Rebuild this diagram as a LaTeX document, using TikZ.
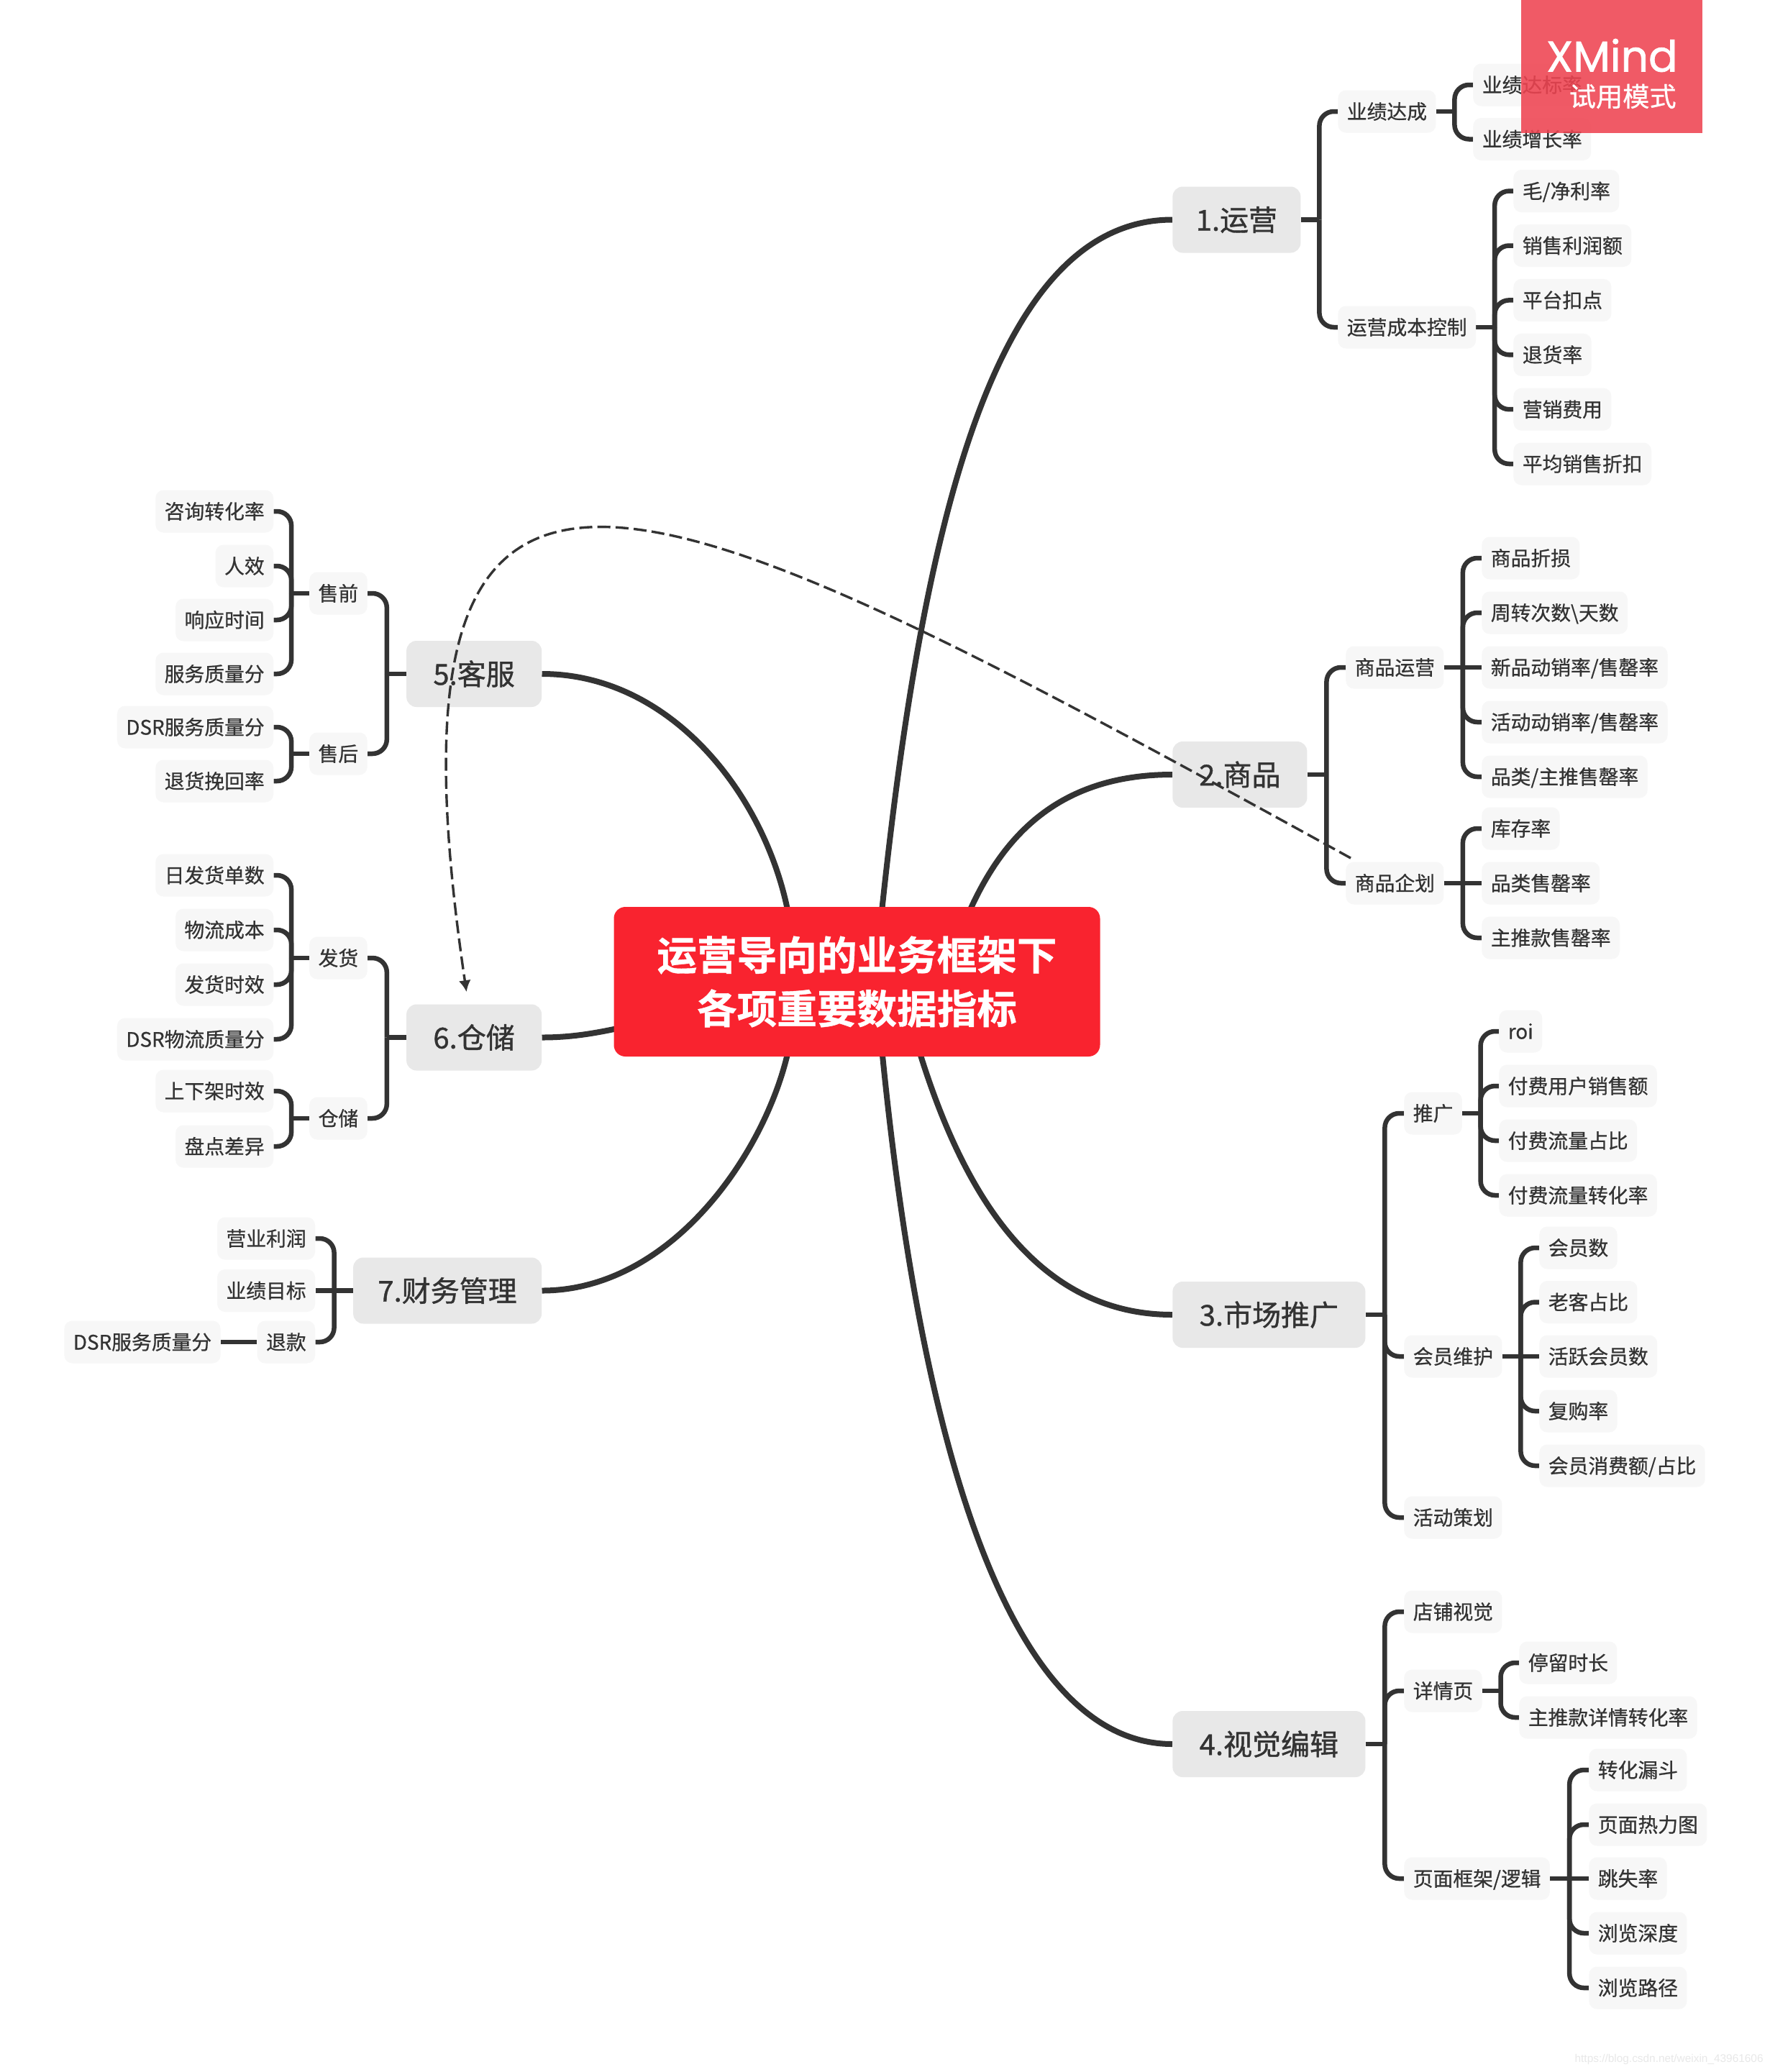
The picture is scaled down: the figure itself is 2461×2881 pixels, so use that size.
\documentclass[tikz,border=0pt]{standalone}
\usepackage{fontspec}
\setmainfont{Noto Sans CJK SC}[FakeBold=0.7,BoldFont={Noto Sans CJK SC Bold}]
\newfontfamily\wmfont{Poppins}[FakeBold=1.2]
\newfontfamily\urlfont{Liberation Sans}
\newfontfamily\cjkplain{Noto Sans CJK SC}[FakeBold=0.7]
\newfontfamily\topicfont{Noto Sans CJK SC}[FakeBold=1.0]
\usetikzlibrary{calc,arrows.meta}
\definecolor{ink}{HTML}{333333}
\definecolor{leaffill}{HTML}{F7F7F7}
\definecolor{topicfill}{HTML}{E8E8E8}
\definecolor{rootfill}{HTML}{F9232F}
\definecolor{markfill}{HTML}{EF4451}
\pgfdeclarelayer{under}
\pgfsetlayers{under,main}
\tikzset{
  leafbox/.style={fill=leaffill,text=ink,rounded corners=5.5pt,font=\fontsize{13.9}{16}\selectfont,
    inner xsep=6.2pt,inner ysep=0pt,minimum height=29.5pt,text height=12.2pt,text depth=1.7pt},
  topicbox/.style={fill=topicfill,text=ink,rounded corners=7pt,font=\topicfont\fontsize{20}{24}\selectfont,
    inner xsep=0pt,inner ysep=0pt,minimum height=46pt,text height=17.6pt,text depth=2.4pt},
  rootbox/.style={fill=rootfill,text=white,rounded corners=8pt,font=\fontsize{27.8}{37.2}\selectfont\bfseries,
    align=center,minimum width=338pt,minimum height=104pt,inner sep=0pt},
  onright/.style={anchor=west},
  onleft/.style={anchor=east},
  stub/.style={draw=ink,line width=3.25pt},
  branch/.style={draw=ink,line width=3.25pt,rounded corners=10pt},
  mainline/.style={draw=ink,line width=4pt},
  relation/.style={draw=ink,line width=1.7pt,dash pattern=on 9pt off 3.6pt,
    -{Latex[length=8pt,width=8.5pt]}},
}
% stub from the parent to the trunk, then trunk with a rounded turn into the child
\newcommand{\rbranch}[2]{%
  \coordinate (trunk) at ($(#1.east)!.5!(#2.west)$);
  \draw[stub] (#1.east) -- (trunk |- #1.east);
  \draw[branch] (trunk |- #1.east) |- (#2.west);}
\newcommand{\lbranch}[2]{%
  \coordinate (trunk) at ($(#1.west)!.5!(#2.east)$);
  \draw[stub] (#1.west) -- (trunk |- #1.west);
  \draw[branch] (trunk |- #1.west) |- (#2.east);}
\newcommand{\rstraight}[2]{\draw[stub] (#1.east) -- (#2.west);}
\newcommand{\lstraight}[2]{\draw[stub] (#1.west) -- (#2.east);}
\begin{document}
\begin{tikzpicture}[x=0.5pt,y=-0.5pt]
\path[use as bounding box] (0,0) rectangle (2461,2881);

\node[rootbox] (root) at (1191.5,1365) {运营导向的业务框架下\\各项重要数据指标};

% topics
\node[topicbox,onright,minimum width=89pt] (ta) at (1630,305.5) {1.运营};
\node[topicbox,onright,minimum width=93.5pt] (tb) at (1630,1077) {2.商品};
\node[topicbox,onright,minimum width=134pt] (tc) at (1630,1828) {3.市场推广};
\node[topicbox,onright,minimum width=134pt] (td) at (1630,2425) {4.视觉编辑};
\node[topicbox,onleft,minimum width=94pt] (te) at (753.5,937) {5.客服};
\node[topicbox,onleft,minimum width=94pt] (tf) at (753.5,1442.5) {6.仓储};
\node[topicbox,onleft,minimum width=131pt] (tg) at (753.5,1794.5) {7.财务管理};

% 1
\node[leafbox,onright] (a1) at (1860,155) {业绩达成};
\node[leafbox,onright] (a2) at (1860,455) {运营成本控制};
\node[leafbox,onright] (a11) at (2048,118) {业绩达标率};
\node[leafbox,onright] (a12) at (2048,193.5) {业绩增长率};
\node[leafbox,onright] (a21) at (2104,265.6) {毛/净利率};
\node[leafbox,onright] (a22) at (2104,341.5) {销售利润额};
\node[leafbox,onright] (a23) at (2104,417.4) {平台扣点};
\node[leafbox,onright] (a24) at (2104,493.3) {退货率};
\node[leafbox,onright] (a25) at (2104,569.2) {营销费用};
\node[leafbox,onright] (a26) at (2104,645) {平均销售折扣};
% 2
\node[leafbox,onright] (b1) at (1871,928) {商品运营};
\node[leafbox,onright] (b2) at (1871,1228) {商品企划};
\node[leafbox,onright] (b11) at (2060,776) {商品折损};
\node[leafbox,onright] (b12) at (2060,852) {周转次数\textbackslash 天数};
\node[leafbox,onright] (b13) at (2060,928) {新品动销率/售罄率};
\node[leafbox,onright] (b14) at (2060,1004) {活动动销率/售罄率};
\node[leafbox,onright] (b15) at (2060,1080) {品类/主推售罄率};
\node[leafbox,onright] (b21) at (2060,1152) {库存率};
\node[leafbox,onright] (b22) at (2060,1228) {品类售罄率};
\node[leafbox,onright] (b23) at (2060,1304) {主推款售罄率};
% 3
\node[leafbox,onright] (c1) at (1952,1548) {推广};
\node[leafbox,onright] (c2) at (1952,1886) {会员维护};
\node[leafbox,onright] (c3) at (1952,2110) {活动策划};
\node[leafbox,onright] (c11) at (2084,1434) {roi};
\node[leafbox,onright] (c12) at (2084,1510) {付费用户销售额};
\node[leafbox,onright] (c13) at (2084,1586) {付费流量占比};
\node[leafbox,onright] (c14) at (2084,1662) {付费流量转化率};
\node[leafbox,onright] (c21) at (2140,1735) {会员数};
\node[leafbox,onright] (c22) at (2140,1810.5) {老客占比};
\node[leafbox,onright] (c23) at (2140,1886) {活跃会员数};
\node[leafbox,onright] (c24) at (2140,1962) {复购率};
\node[leafbox,onright] (c25) at (2140,2038) {会员消费额/占比};
% 4
\node[leafbox,onright] (d1) at (1952,2241) {店铺视觉};
\node[leafbox,onright] (d2) at (1952,2351) {详情页};
\node[leafbox,onright] (d3) at (1952,2612) {页面框架/逻辑};
\node[leafbox,onright] (d21) at (2112,2312) {停留时长};
\node[leafbox,onright] (d22) at (2112,2388) {主推款详情转化率};
\node[leafbox,onright] (d31) at (2209,2461) {转化漏斗};
\node[leafbox,onright] (d32) at (2209,2537) {页面热力图};
\node[leafbox,onright] (d33) at (2209,2612) {跳失率};
\node[leafbox,onright] (d34) at (2209,2688) {浏览深度};
\node[leafbox,onright] (d35) at (2209,2764) {浏览路径};
% 5
\node[leafbox,onleft] (e1) at (511,825) {售前};
\node[leafbox,onleft] (e2) at (511,1048) {售后};
\node[leafbox,onleft] (e11) at (380.5,711) {咨询转化率};
\node[leafbox,onleft] (e12) at (380.5,787) {人效};
\node[leafbox,onleft] (e13) at (380.5,862) {响应时间};
\node[leafbox,onleft] (e14) at (380.5,937) {服务质量分};
\node[leafbox,onleft] (e21) at (380.5,1011) {DSR服务质量分};
\node[leafbox,onleft] (e22) at (380.5,1086) {退货挽回率};
% 6
\node[leafbox,onleft] (f1) at (511,1332) {发货};
\node[leafbox,onleft] (f2) at (511,1555) {仓储};
\node[leafbox,onleft] (f11) at (380.5,1217) {日发货单数};
\node[leafbox,onleft] (f12) at (380.5,1293) {物流成本};
\node[leafbox,onleft] (f13) at (380.5,1369) {发货时效};
\node[leafbox,onleft] (f14) at (380.5,1445) {DSR物流质量分};
\node[leafbox,onleft] (f21) at (380.5,1517) {上下架时效};
\node[leafbox,onleft] (f22) at (380.5,1594) {盘点差异};
% 7
\node[leafbox,onleft] (g1) at (438.5,1722) {营业利润};
\node[leafbox,onleft] (g2) at (438.5,1794.5) {业绩目标};
\node[leafbox,onleft] (g3) at (438.5,1866) {退款};
\node[leafbox,onleft] (g31) at (307,1866) {DSR服务质量分};

\begin{pgfonlayer}{under}
\fill[white] (0,0) rectangle (2461,2881);
% main curves
\draw[mainline] ($(root.north)+(35,2)$) .. controls (1286,701) and (1390,305.5) .. (ta.west);
\draw[mainline] ($(root.north)+(158.5,2)$) .. controls (1395,1165) and (1470,1077) .. (tb.west);
\draw[mainline] ($(root.south)+(88.5,-2)$) .. controls (1334,1639) and (1430,1828) .. (tc.west);
\draw[mainline] ($(root.south)+(35.5,-2)$) .. controls (1280,2000) and (1400,2425) .. (td.west);
\draw[mainline] ($(root.north)+(-97,2)$) .. controls (1060,1100) and (930,937) .. (te.east);
\draw[mainline] ($(root.west)+(2,65.7)$) .. controls (820,1438) and (790,1442.5) .. (tf.east);
\draw[mainline] ($(root.south)+(-97,-2)$) .. controls (1060,1610) and (930,1794.5) .. (tg.east);
% branches
\foreach \c in {a1,a2}{\rbranch{ta}{\c}}
\foreach \c in {a11,a12}{\rbranch{a1}{\c}}
\foreach \c in {a21,a22,a23,a24,a25,a26}{\rbranch{a2}{\c}}
\foreach \c in {b1,b2}{\rbranch{tb}{\c}}
\foreach \c in {b11,b12,b14,b15}{\rbranch{b1}{\c}}
\rstraight{b1}{b13}
\foreach \c in {b21,b23}{\rbranch{b2}{\c}}
\rstraight{b2}{b22}
\foreach \c in {c1,c2,c3}{\rbranch{tc}{\c}}
\foreach \c in {c11,c12,c13,c14}{\rbranch{c1}{\c}}
\foreach \c in {c21,c22,c24,c25}{\rbranch{c2}{\c}}
\rstraight{c2}{c23}
\foreach \c in {d1,d2,d3}{\rbranch{td}{\c}}
\foreach \c in {d21,d22}{\rbranch{d2}{\c}}
\foreach \c in {d31,d32,d34,d35}{\rbranch{d3}{\c}}
\rstraight{d3}{d33}
\foreach \c in {e1,e2}{\lbranch{te}{\c}}
\foreach \c in {e11,e12,e13,e14}{\lbranch{e1}{\c}}
\foreach \c in {e21,e22}{\lbranch{e2}{\c}}
\foreach \c in {f1,f2}{\lbranch{tf}{\c}}
\foreach \c in {f11,f12,f13,f14}{\lbranch{f1}{\c}}
\foreach \c in {f21,f22}{\lbranch{f2}{\c}}
\foreach \c in {g1,g3}{\lbranch{tg}{\c}}
\lstraight{tg}{g2}
\lstraight{g3}{g31}
\end{pgfonlayer}

% relationship
\coordinate (relfrom) at ($(b2.north west)+(7,-5)$);
\coordinate (relto) at ($(tf.north)+(-10.5,-17)$);
\draw[relation] (relfrom) .. controls (886,647) and (512,454) .. (relto);

% trial badge
\node[fill=markfill,fill opacity=0.88,minimum width=126pt,minimum height=92.5pt,inner sep=0pt,anchor=north west] (badge) at (2115,0) {};
\node[text=white,font=\wmfont\fontsize{30}{32}\selectfont,anchor=east,inner sep=0pt] (badgea) at (2333,77) {XMind};
\node[text=white,font=\cjkplain\fontsize{18.6}{22}\selectfont,anchor=east,inner sep=0pt] (badgeb) at (2331,134) {试用模式};
% url
\node[text=black!9,font=\urlfont\fontsize{7.7}{9}\selectfont,anchor=east,inner sep=0pt] (url) at (2452,2863) {https://blog.csdn.net/weixin\_43961606};
\end{tikzpicture}
\end{document}
